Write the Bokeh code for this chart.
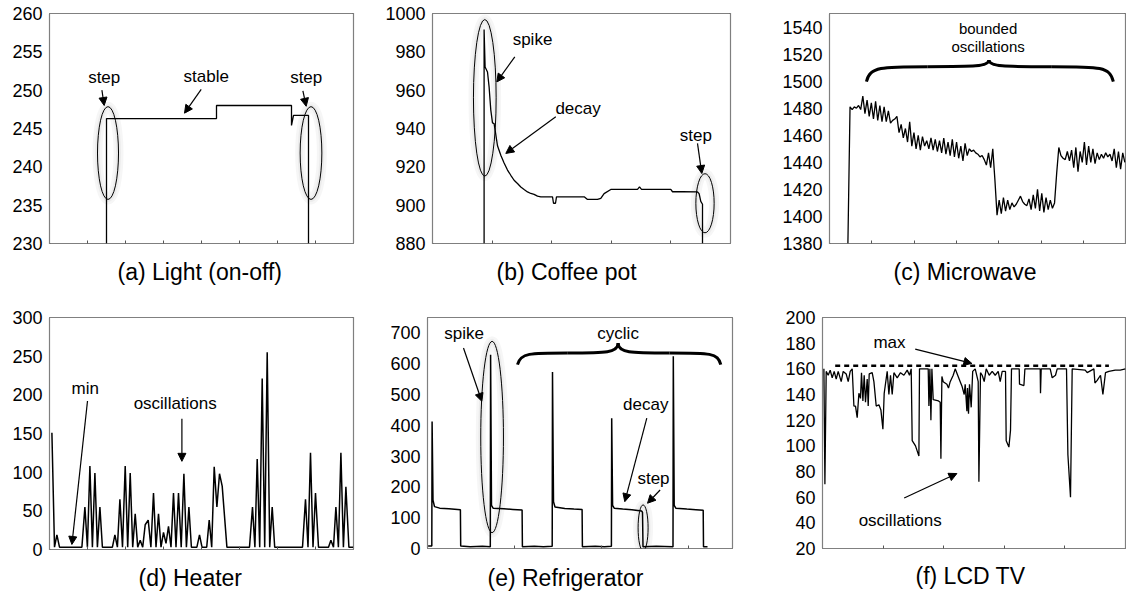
from bokeh.plotting import figure
from bokeh.layouts import column, row
from bokeh.models import Range1d, FixedTicker, Arrow, NormalHead, Title, LinearAxis
from bokeh.embed import file_html
from bokeh.resources import INLINE
from bokeh.core.properties import value

FONT = "Liberation Sans"

# ---------------- data (time in arbitrary units, power in W) ----------------
# (a) Light (on-off)
light_t = [57, 57, 167, 167, 242, 242, 244, 259, 259]
light_w = [230, 246.3, 246.3, 248, 248, 245.4, 246.7, 246.7, 230]

# (b) Coffee pot
coffee_t = [51.6, 51.6, 52.6, 55.0, 56.6, 58.3, 60.0, 61.6, 65.0, 68.3, 71.6, 75.0,
            78.3, 81.6, 85.0, 88.3, 91.6, 95.0, 98.3, 101.6, 105.0, 108.3, 120.0,
            121.0, 123.0, 124.0, 138.0, 152.0, 155.0, 165.0, 168.3, 171.6, 178.3,
            205.0, 207.0, 209.0, 222.0, 238.3, 240.0, 250.0, 265.0, 266.6, 268.3,
            270.0, 270.0]
coffee_w = [880, 991.7, 972.1, 969.5, 961.7, 949.6, 942.9, 942.6, 931, 926, 922, 918.3,
            915.6, 913, 911.3, 909.5, 908.2, 906.9, 906.1, 905.6, 904.7, 904.3, 904.3,
            901, 901, 904.3, 904.3, 904.3, 903, 903, 903.5, 906, 908.2,
            908.2, 909.5, 908.2, 908.2, 908.2, 907, 907, 906.9, 906, 902,
            900.5, 880]

# (c) Microwave (uniformly spaced samples)
micro_w = [1380,
           1481, 1479, 1481, 1480, 1482, 1479,
           1489, 1476, 1486, 1474, 1484, 1472, 1485, 1471, 1482, 1470, 1481, 1470, 1478, 1469,
           1471, 1472, 1474,
           1462, 1468, 1458, 1465, 1455, 1470, 1452, 1462, 1450, 1460, 1449, 1459, 1452,
           1456, 1450, 1458, 1449, 1457, 1448, 1456, 1447, 1458, 1446, 1455, 1445, 1457, 1444, 1455,
           1443, 1452, 1441, 1454, 1445, 1450, 1448, 1449, 1447, 1446, 1444, 1445, 1442,
           1438, 1447, 1436, 1450,
           1427, 1401,
           1412, 1402, 1414, 1404, 1412, 1405, 1410, 1407, 1409,
           1412, 1415, 1411, 1409, 1408,
           1413, 1405, 1416, 1406, 1420, 1404, 1417, 1403, 1414, 1405, 1412, 1406, 1410,
           1432, 1451,
           1445, 1443, 1442, 1448, 1441,
           1449, 1436, 1451, 1433, 1448, 1440, 1455, 1438,
           1452, 1440, 1450, 1439, 1447, 1442, 1446, 1443, 1447, 1444, 1446, 1441,
           1450, 1436, 1448, 1435, 1447, 1440]
micro_t = list(range(len(micro_w)))

# (d) Heater
heater_t = [2.4, 5.0, 7.4, 10.0, 32.4, 35.4, 37.9, 40.4, 42.9, 45.4,
            47.9, 50.4, 52.9, 62.9, 65.4, 67.9, 70.4, 73.0, 75.7, 78.2,
            80.7, 83.2, 85.7, 88.2, 90.7, 93.2, 95.7, 98.7, 101.4, 104.0,
            106.5, 109.0, 111.5, 114.0, 116.5, 119.0, 121.5, 124.0, 126.5, 129.0,
            131.7, 134.4, 136.9, 139.4, 141.9, 147.4, 150.0, 152.5, 157.2, 159.7,
            162.2, 164.7, 167.4, 170.0, 172.7, 177.4, 200.0, 203.0, 205.4, 207.7,
            210.2, 212.7, 215.2, 217.7, 220.2, 222.7, 225.2, 253.0, 256.0, 258.5,
            261.0, 263.5, 266.0, 269.0, 279.0, 281.4, 284.0, 286.4, 288.9, 291.4,
            293.9, 296.4, 299.4, 303.7]
heater_w = [151, 3, 19, 3, 3, 55, 3, 108, 3, 99,
            3, 55, 3, 3, 19, 3, 65, 3, 108, 3,
            99, 3, 46, 3, 12, 3, 32, 38, 3, 73,
            3, 46, 3, 22, 8, 30, 3, 73, 3, 73,
            3, 98, 3, 55, 3, 3, 19, 3, 3, 38,
            3, 107, 55, 98, 82, 3, 3, 55, 3, 117,
            3, 221, 3, 255, 3, 55, 3, 3, 65, 3,
            125, 3, 73, 3, 3, 12, 3, 55, 3, 125,
            3, 81, 3, 3]

# (e) Refrigerator
fridge_t = [0.6, 4.3, 4.6, 5.5, 7.0, 12.2, 21.4, 32.9, 33.2, 42.7,
            54.9, 62.8, 63.1, 64.0, 65.6, 76.3, 85.4, 94.6, 94.9, 106.8,
            115.9, 124.7, 125.0, 126.0, 127.5, 137.3, 146.4, 154.6, 154.9, 167.8,
            176.9, 183.9, 184.2, 185.1, 186.7, 195.2, 204.4, 214.0, 215.0, 215.5,
            228.8, 245.5, 245.8, 246.7, 248.3, 259.3, 268.4, 275.7, 276.0, 280.0]
fridge_w = [8, 8, 412, 157, 136, 131, 129, 126, 8, 6,
            7, 6, 629, 140, 131, 129, 127, 125, 6, 7,
            6, 7, 573, 152, 135, 130, 128, 127, 6, 7,
            6, 7, 423, 140, 131, 128, 126, 122, 118, 6,
            7, 6, 624, 140, 131, 128, 126, 124, 6, 6]

# (f) LCD TV
tv_t = [1.4, 2.4, 3.7, 5.7, 7.7, 9.7, 11.7, 13.7, 15.7, 18.7,
        20.7, 23.7, 25.7, 27.7, 29.7, 31.4, 33.0, 34.7, 36.4, 38.0,
        39.0, 40.4, 41.7, 43.0, 44.7, 45.7, 46.7, 49.7, 51.4, 53.7,
        56.4, 58.4, 60.4, 61.7, 64.7, 66.4, 68.0, 69.7, 71.4, 74.7,
        78.0, 81.4, 84.7, 87.0, 88.7, 89.7, 93.0, 96.4, 97.0, 105.7,
        106.4, 107.4, 108.4, 109.4, 110.7, 116.0, 117.7, 118.4, 119.4, 120.7,
        124.4, 126.0, 127.7, 130.7, 132.7, 134.7, 137.7, 139.7, 141.7, 142.7,
        144.4, 145.0, 146.0, 147.0, 148.7, 150.2, 152.7, 155.7, 156.4, 158.0,
        159.7, 161.7, 163.7, 166.7, 169.7, 172.7, 175.7, 177.7, 179.7, 183.0,
        183.7, 186.4, 188.0, 189.0, 196.7, 197.0, 201.4, 202.4, 217.7, 218.0,
        218.7, 227.7, 229.7, 233.0, 234.7, 244.0, 245.4, 248.0, 249.7, 262.7,
        264.7, 271.4, 272.4, 274.7, 278.0, 280.4, 283.0, 286.4, 292.7, 297.7,
        303.0]
tv_w = [160, 70, 158, 155, 159, 153, 158, 152, 158, 150,
        158, 156, 150, 158, 160, 131, 131, 122, 141, 137,
        157, 135, 155, 134, 152, 131, 156, 157, 150, 131,
        132, 128, 113, 141, 158, 140, 155, 140, 157, 153,
        157, 155, 159, 155, 160, 104, 100, 92, 160, 160,
        131, 160, 120, 160, 136, 135, 134, 90, 154, 150,
        148, 145, 150, 155, 160, 156, 150, 146, 140, 148,
        127, 145, 125, 148, 130, 158, 160, 150, 72, 157,
        155, 150, 160, 155, 158, 155, 158, 150, 158, 158,
        104, 99, 112, 160, 160, 148, 147, 160, 160, 141,
        160, 160, 153, 155, 160, 160, 93, 60, 160, 159,
        157, 160, 149, 151, 155, 140, 157, 158, 159, 159,
        160]
tv_max = 162.4
tv_max_span = [12.7, 286.4]

# y tick labels
ticks_a = [230, 235, 240, 245, 250, 255, 260]
ticks_b = [880, 900, 920, 940, 960, 980, 1000]
ticks_c = [1380, 1400, 1420, 1440, 1460, 1480, 1500, 1520, 1540]
ticks_d = [0, 50, 100, 150, 200, 250, 300]
ticks_e = [0, 100, 200, 300, 400, 500, 600, 700]
ticks_f = [20, 40, 60, 80, 100, 120, 140, 160, 180, 200]


# ---------------- helpers ----------------
def panel(fw, fh, left, right, top, bottom, xr, yr, yticks, xticks, caption, cap_offset,
          cap_gap=12):
    p = figure(frame_width=fw, frame_height=fh,
               min_border_left=left, min_border_right=right,
               min_border_top=top, min_border_bottom=bottom,
               x_range=Range1d(*xr), y_range=Range1d(*yr),
               output_backend="svg", toolbar_location=None,
               background_fill_color="white", border_fill_color="white")
    p.grid.visible = False
    p.outline_line_color = "black"
    p.outline_line_dash = "1 1"
    p.outline_line_width = 1.2
    ya = p.yaxis[0]
    ya.ticker = FixedTicker(ticks=yticks)
    ya.axis_line_color = None
    ya.major_tick_in = 0
    ya.major_tick_out = 0
    ya.minor_tick_line_color = None
    ya.major_label_text_font = FONT
    ya.major_label_text_font_size = "18px"
    ya.major_label_text_color = "black"
    ya.major_label_standoff = 7
    xa = p.xaxis[0]
    xa.ticker = FixedTicker(ticks=xticks)
    xa.axis_line_color = None
    xa.major_tick_in = 3
    xa.major_tick_out = 0
    xa.major_tick_line_color = "#555555"
    xa.minor_tick_line_color = None
    xa.major_label_overrides = {t: "" for t in xticks}
    xa.major_label_standoff = 0
    xa.major_label_text_font_size = "1px"
    # invisible spacer axis that pushes the caption down
    spacer = LinearAxis(ticker=FixedTicker(ticks=xticks), axis_line_color=None,
                        major_tick_in=0, major_tick_out=cap_gap,
                        major_tick_line_color=None, minor_tick_line_color=None,
                        major_label_overrides={t: "" for t in xticks},
                        major_label_standoff=0, major_label_text_font_size="1px")
    p.add_layout(spacer, "below")
    p.add_layout(Title(text=caption, align="left", offset=cap_offset, standoff=4,
                       text_font=FONT, text_font_size="23px", text_font_style="normal",
                       text_color="black", vertical_align="middle"), "below")
    return p


def notes(p, xs, ys, texts, size="17px"):
    p.text(x=xs, y=ys, text=texts, text_font=value(FONT), text_font_size=value(size),
           text_align="center", text_baseline="middle", text_color="black")


def arrows(p, spec):
    for x0, y0, x1, y1 in spec:
        p.add_layout(Arrow(x_start=x0, y_start=y0, x_end=x1, y_end=y1,
                           line_color="black", line_width=1.2,
                           end=NormalHead(size=8, fill_color="black", line_color="black",
                                          line_width=1)))


def ellipses(p, xs, ys, ws, hs):
    # faint soft halo, then the outline
    p.ellipse(x=xs, y=ys, width=ws, height=hs, fill_color=None, line_color="#000000",
              line_alpha=0.035, line_width=10)
    p.ellipse(x=xs, y=ys, width=ws, height=hs, fill_color=None, line_color="#000000",
              line_alpha=0.04, line_width=5)
    p.ellipse(x=xs, y=ys, width=ws, height=hs, fill_color=None, line_color="black",
              line_width=1)


def brace(p, x0, x1, xt, y_end, y_mid, y_tip, lw=3):
    L = xt - x0
    R = x1 - xt
    xa = x0 + 0.5 * L
    xb = xt + 0.5 * R
    p.bezier(x0=[x0, xa, xt, xb], y0=[y_end, y_mid, y_tip, y_mid],
             x1=[xa, xt, xb, x1], y1=[y_mid, y_tip, y_mid, y_end],
             cx0=[x0 + 0.03 * L, xt - 0.12 * L, xt, xb + 0.4 * R],
             cy0=[y_mid, y_mid, y_mid, y_mid],
             cx1=[x0 + 0.12 * L, xt, xt + 0.12 * R, x1 - 0.03 * R],
             cy1=[y_mid, y_mid, y_mid, y_mid],
             line_color="black", line_width=lw)


LW = 1.3

# (a)
pa = panel(304, 230, 49, 17, 13, 47, (0, 304), (230, 260), ticks_a,
           [38, 76, 114, 152, 190, 228, 266], "(a) Light (on-off)", 68)
pa.line(light_t, light_w, line_color="black", line_width=LW)
ellipses(pa, [58.5, 261.5], [241.8, 241.8], [21, 21.7], [12.1, 12.1])
notes(pa, [54.7, 156.7, 256.7], [251.7, 251.8, 251.6], ["step", "stable", "step"])
arrows(pa, [(52.4, 250.0, 54.7, 248.0), (151.7, 250.1, 135, 247.0),
            (253.4, 249.9, 256.7, 247.9)])

# (b)
pb = panel(298, 230, 62, 20, 13, 47, (0, 298), (880, 1000), ticks_b,
           [59.5, 119, 178.6, 238.1], "(b) Coffee pot", 64)
pb.line(coffee_t, coffee_w, line_color="black", line_width=LW)
ellipses(pb, [52.3, 272.5], [956, 901], [22.7, 18.3], [81.7, 30.9])
notes(pb, [100, 145.6, 263.3], [986.4, 950.4, 936.5], ["spike", "decay", "step"])
arrows(pb, [(82.3, 977.4, 64.3, 964.3), (123.3, 946.1, 73.3, 927.0),
            (265, 932.2, 269.3, 916.5)])

# (c)
pc = panel(296, 230, 79, 1, 13, 47, (-8.64, 130.3), (1380, 1550), ticks_c,
           [11.2, 31.1, 50.9, 70.8, 90.7, 110.5], "(c) Microwave", 64)
pc.line(micro_t, micro_w, line_color="black", line_width=LW)
brace(pc, 8.7, 124.6, 66.2, 1499.7, 1510.7, 1515.6)
notes(pc, [65.8, 65.8], [1538.8, 1525.9], ["bounded", "oscillations"], size="15px")

# (d)
pd = panel(304, 232, 49, 17, 25, 49, (0, 304), (0, 300), ticks_d,
           [38, 76, 114, 152, 190, 228, 266], "(d) Heater", 89)
pd.line(heater_t, heater_w, line_color="black", line_width=1.5)
notes(pd, [35.7, 125.7], [208.5, 188.6], ["min", "oscillations"])
arrows(pd, [(38, 192, 22.4, 6.5), (132.4, 169, 132.4, 114)])

# (e)
pe = panel(305, 231, 57, 18, 24, 51, (0, 305), (0, 750), ticks_e, [87, 174, 261],
           "(e) Refrigerator", 60, cap_gap=13)
pe.line(fridge_t, fridge_w, line_color="black", line_width=1.5)
brace(pe, 90, 293.3, 190.6, 597, 635, 667)
ellipses(pe, [64.6, 215.6], [362, 67], [22.7, 10], [621, 149])
notes(pe, [36.6, 190.6, 218.3, 226], [697, 697, 467, 228],
      ["spike", "cyclic", "decay", "step"])
arrows(pe, [(36, 651, 54.3, 478), (219.3, 423, 197.3, 152), (232.6, 190, 220, 147)])

# (f)
pf = panel(303, 231, 72, 1, 27, 48, (0, 303), (20, 200), ticks_f,
           [60.6, 121.2, 181.8, 242.4], "(f) LCD TV", 93, cap_gap=11)
pf.line(tv_t, tv_w, line_color="black", line_width=LW)
pf.line(tv_max_span, [tv_max, tv_max], line_color="black", line_width=2.5, line_dash="5 4")
notes(pf, [67, 77.7], [180.5, 41.6], ["max", "oscillations"])
arrows(pf, [(92.7, 175.4, 149.4, 164.2), (81.7, 59.3, 134.4, 78.4)])

layout = column(row(pa, pb, pc), row(pd, pe, pf))
open("out.html", "w").write(file_html(layout, INLINE))
